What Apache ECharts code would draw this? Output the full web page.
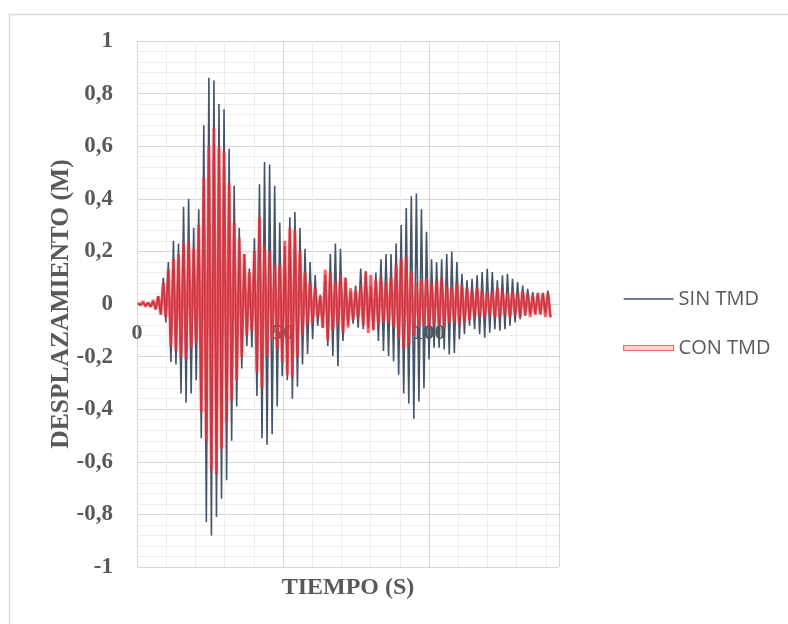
<!DOCTYPE html>
<html><head><meta charset="utf-8">
<script src="https://cdn.jsdelivr.net/npm/echarts@6/dist/echarts.min.js"></script>
<style>html,body{margin:0;padding:0;background:#fff;}#c{width:788px;height:624px;}</style>
</head><body><div id="c"></div>
<script>
// ---- data ----
const seriesNames = ['SIN TMD', 'CON TMD'];
const xTickLabels = ['0', '50', '100'];
const yTickLabels = ['-1', '-0,8', '-0,6', '-0,4', '-0,2', '0', '0,2', '0,4', '0,6', '0,8', '1'];
const timeStart = 0.345;   // s, first sample
const timeStep = 0.8665;   // s, one sample per half cycle (extremes)
const xMax = 144.5;

// SIN TMD: successive extremes (peak / trough), one per half cycle
const sinTmd = [
  0, -0.003, 0.004, -0.006, 0.006, -0.01, 0.01, -0.02, 0.03, -0.04,
  0.10, -0.07, 0.16, -0.22, 0.24, -0.23, 0.23, -0.34, 0.37, -0.375,
  0.40, -0.34, 0.29, -0.29, 0.36, -0.51, 0.68, -0.83, 0.86, -0.88,
  0.85, -0.81, 0.76, -0.74, 0.74, -0.67, 0.59, -0.52, 0.45, -0.39,
  0.29, -0.245, 0.19, -0.16, 0.135, -0.165, 0.25, -0.35, 0.455, -0.51,
  0.54, -0.535, 0.53, -0.495, 0.45, -0.39, 0.31, -0.275, 0.22, -0.29,
  0.33, -0.36, 0.35, -0.315, 0.29, -0.23, 0.21, -0.19, 0.16, -0.134,
  0.11, -0.083, 0.035, -0.09, 0.11, -0.16, 0.19, -0.198, 0.23, -0.237,
  0.21, -0.141, 0.10, -0.08, 0.05, -0.075, 0.07, -0.09, 0.135, -0.096,
  0.125, -0.09, 0.07, -0.10, 0.12, -0.141, 0.17, -0.179, 0.19, -0.198,
  0.19, -0.218, 0.23, -0.269, 0.30, -0.34, 0.365, -0.378, 0.41, -0.436,
  0.42, -0.371, 0.36, -0.32, 0.275, -0.211, 0.17, -0.166, 0.16, -0.166,
  0.17, -0.173, 0.19, -0.192, 0.20, -0.186, 0.16, -0.134, 0.115, -0.115,
  0.09, -0.083, 0.096, -0.096, 0.109, -0.115, 0.122, -0.128, 0.134, -0.109,
  0.122, -0.096, 0.09, -0.102, 0.109, -0.096, 0.115, -0.083, 0.096, -0.07,
  0.083, -0.058, 0.07, -0.045, 0.058, -0.038, 0.045, -0.038, 0.042, -0.038,
  0.042, -0.035, 0.051, -0.051
];

// CON TMD: successive extremes, same sampling
const conTmd = [
  0.005, -0.005, 0.01, -0.01, 0.005, -0.01, 0.015, -0.02, 0.03, -0.04,
  0.08, -0.05, 0.13, -0.16, 0.17, -0.18, 0.19, -0.20, 0.23, -0.21,
  0.24, -0.17, 0.21, -0.15, 0.30, -0.41, 0.48, -0.52, 0.60, -0.63,
  0.67, -0.65, 0.60, -0.55, 0.58, -0.45, 0.46, -0.37, 0.31, -0.29,
  0.25, -0.20, 0.19, -0.12, 0.12, -0.10, 0.20, -0.26, 0.33, -0.32,
  0.22, -0.20, 0.20, -0.14, 0.15, -0.17, 0.15, -0.22, 0.24, -0.27,
  0.29, -0.28, 0.28, -0.20, 0.20, -0.12, 0.12, -0.08, 0.08, -0.07,
  0.06, -0.05, 0.03, -0.09, 0.13, -0.14, 0.12, -0.10, 0.08, -0.08,
  0.11, -0.11, 0.10, -0.09, 0.06, -0.06, 0.05, -0.05, 0.07, -0.08,
  0.12, -0.11, 0.11, -0.10, 0.09, -0.08, 0.10, -0.07, 0.08, -0.07,
  0.10, -0.09, 0.15, -0.13, 0.17, -0.17, 0.18, -0.16, 0.12, -0.12,
  0.08, -0.09, 0.09, -0.08, 0.10, -0.09, 0.08, -0.08, 0.09, -0.08,
  0.10, -0.09, 0.07, -0.07, 0.06, -0.07, 0.08, -0.08, 0.07, -0.07,
  0.06, -0.06, 0.05, -0.05, 0.06, -0.05, 0.05, -0.05, 0.04, -0.04,
  0.05, -0.05, 0.06, -0.05, 0.05, -0.04, 0.04, -0.05, 0.05, -0.04,
  0.04, -0.05, 0.05, -0.04, 0.04, -0.05, 0.03, -0.04, 0.04, -0.04,
  0.04, -0.05, 0.04, -0.05
];

// ---- chart ----
const times = sinTmd.map((_, i) => +(timeStart + i * timeStep).toFixed(4));
const pairs = arr => arr.map((v, i) => [times[i], v]);

const serif = '"Liberation Serif","Times New Roman",serif';
const sans = '"Open Sans","Liberation Sans",sans-serif';
const gray = '#595959';
const sinColor = '#44546A';

const chart = echarts.init(document.getElementById('c'), null, { renderer: 'canvas' });
chart.setOption({
  animation: false,
  backgroundColor: '#ffffff',
  graphic: [{
    type: 'rect', silent: true, z: -10,
    shape: { x: 9.5, y: 14.5, width: 900, height: 900 },
    style: { fill: 'none', stroke: '#d9d9d9', lineWidth: 1.5 }
  }],
  grid: { left: 137, top: 41, width: 422, height: 526 },
  legend: {
    orient: 'vertical', left: 618, top: 284,
    itemWidth: 50, itemHeight: 14, itemGap: 29, symbolKeepAspect: false,
    textStyle: { fontFamily: sans, fontSize: 20, color: gray },
    data: [
      { name: seriesNames[0], icon: 'path://M0,0M0,6.3H50V7.7H0ZM50,14',
        itemStyle: { color: sinColor, borderWidth: 0 } },
      { name: seriesNames[1], icon: 'path://M0,0M0,4.5H50V9.5H0ZM50,14',
        itemStyle: { color: 'rgba(255,190,190,0.7)', borderColor: 'rgba(240,80,80,0.85)', borderWidth: 1.2 } }
    ]
  },
  xAxis: [
    {
      type: 'value', min: 0, max: xMax, interval: 50, position: 'bottom',
      axisLine: { show: false, onZero: false },
      axisTick: { show: false },
      axisLabel: {
        showMaxLabel: false, margin: -245,
        formatter: v => { const i = Math.round(v / 50); return (Math.abs(v - i * 50) < 1e-6 && xTickLabels[i]) ? xTickLabels[i] : ''; },
        fontFamily: serif, fontWeight: 'bold', fontSize: 22, color: gray
      },
      splitLine: { show: true, lineStyle: { color: '#d6d6d6', width: 1 } },
      z: 1
    },
    {
      type: 'value', min: 0, max: xMax, interval: 10, position: 'bottom',
      axisLine: { show: false, onZero: false }, axisTick: { show: false }, axisLabel: { show: false },
      splitLine: { show: true, lineStyle: { color: '#ededed', width: 1 } },
      name: 'TIEMPO (S)', nameLocation: 'middle', nameGap: 9,
      nameTextStyle: { fontFamily: serif, fontWeight: 'bold', fontSize: 24, color: gray },
      z: 0
    }
  ],
  yAxis: {
    type: 'value', min: -1, max: 1, interval: 0.2,
    axisLine: { show: false }, axisTick: { show: false },
    axisLabel: {
      margin: 24,
      formatter: v => yTickLabels[Math.round((v + 1) / 0.2)],
      fontFamily: serif, fontWeight: 'bold', fontSize: 23, color: gray
    },
    splitLine: { show: true, lineStyle: { color: '#d6d6d6', width: 1 } },
    minorTick: { show: false, splitNumber: 5 },
    minorSplitLine: { show: true, lineStyle: { color: '#ededed', width: 1 } },
    name: 'DESPLAZAMIENTO (M)', nameLocation: 'middle', nameGap: 63, nameRotate: 90,
    nameMoveOverlap: false,
    nameTextStyle: { fontFamily: serif, fontWeight: 'bold', fontSize: 25.5, color: gray }
  },
  series: [
    {
      name: seriesNames[0], type: 'line', xAxisIndex: 0, data: pairs(sinTmd),
      symbol: 'none', showSymbol: false, sampling: null, z: 2,
      lineStyle: { color: sinColor, width: 1.6 }, itemStyle: { color: sinColor }
    },
    {
      name: seriesNames[1], type: 'line', xAxisIndex: 0, data: pairs(conTmd),
      symbol: 'none', showSymbol: false, sampling: null, z: 3,
      lineStyle: { color: 'rgba(236,38,48,0.66)', width: 2.8, shadowColor: 'rgba(255,110,110,0.55)', shadowBlur: 3 },
      itemStyle: { color: '#ec2630' }
    }
  ]
});
</script>
</body></html>
